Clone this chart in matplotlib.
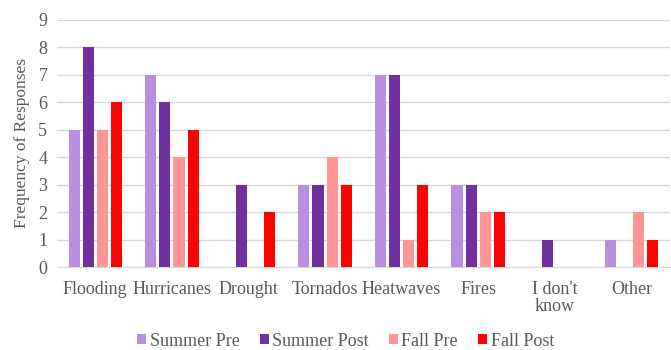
import numpy as np
import matplotlib
matplotlib.use("Agg")
from matplotlib import pyplot as plt

plt.rcParams['font.family'] = ['Liberation Serif', 'DejaVu Serif']

#Data
categories = ["Flooding", "Hurricanes", "Drought", "Tornados", "Heatwaves", "Fires", "I don't\nknow", "Other"]
summer_pre = [5, 7, 0, 3, 7, 3, 0, 1]
summer_post = [8, 6, 3, 3, 7, 3, 1, 0]
fall_pre = [5, 4, 0, 4, 1, 2, 0, 2]
fall_post = [6, 5, 2, 3, 3, 2, 0, 1]

series = [("Summer Pre", summer_pre, "#bb8fe0"),
          ("Summer Post", summer_post, "#7030a0"),
          ("Fall Pre", fall_pre, "#ff9595"),
          ("Fall Post", fall_post, "#ff0000")]

#Plot
fig = plt.figure(figsize=(6.71, 3.5), dpi=100)
ax = fig.add_axes([0.085, 0.237, 0.913, 0.706])

x = np.arange(len(categories))
w = 0.145
step = 0.185
for i, (name, vals, col) in enumerate(series):
    ax.bar(x + (i - 1.5) * step, vals, w, color=col, label=name, zorder=3)

#Plot details
ax.set_ylim(0, 9)
ax.set_xlim(-0.5, len(categories) - 0.5)
ax.set_yticks(range(0, 10))
ax.yaxis.grid(True, color="#d9d9d9", linewidth=1, zorder=0)
for s in ["top", "right", "left"]:
    ax.spines[s].set_visible(False)
ax.spines["bottom"].set_color("#d9d9d9")
ax.tick_params(axis="both", length=0, colors="#595959", labelsize=13)
ax.tick_params(axis="y", pad=7)
ax.tick_params(axis="x", pad=10)
ax.set_xticks(x)
ax.set_xticklabels(categories, linespacing=1.0)
ax.set_ylabel("Frequency of Responses", fontsize=12.5, color="#595959", labelpad=6)

ax.legend(loc="upper center", bbox_to_anchor=(0.471, -0.262), ncol=4, frameon=False,
          fontsize=13, labelcolor="#595959", handlelength=0.5, handleheight=0.5,
          handletextpad=0.2, columnspacing=1.1, borderpad=0.05, borderaxespad=0)

plt.savefig("out.png", dpi=100)
